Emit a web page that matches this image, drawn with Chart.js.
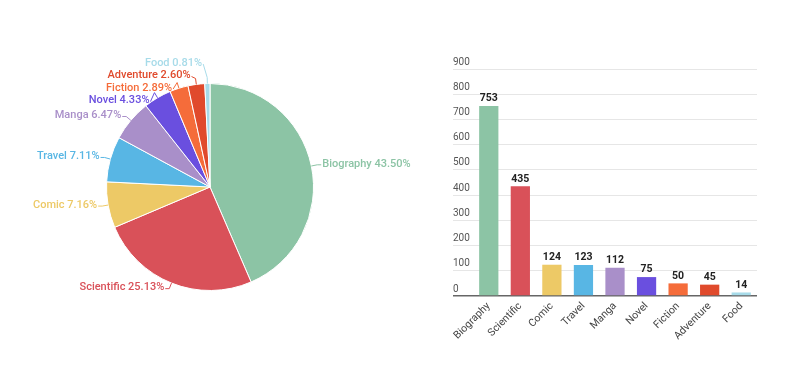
<!DOCTYPE html>
<html>
<head>
<meta charset="utf-8">
<script src="https://cdn.jsdelivr.net/npm/chart.js@4"></script>
<style>
  body { margin: 0; background: #fff; width: 800px; height: 388px; overflow: hidden; position: relative; }
  .box { position: absolute; }
</style>
</head>
<body>
<div class="box" style="left:0;top:0;width:420px;height:388px"><canvas id="pieChart"></canvas></div>
<div class="box" style="left:440px;top:40px;width:340px;height:320px"><canvas id="barChart"></canvas></div>
<script>
// book genres and how many of each
const categories = ['Biography', 'Scientific', 'Comic', 'Travel', 'Manga', 'Novel', 'Fiction', 'Adventure', 'Food'];
const counts = [753, 435, 124, 123, 112, 75, 50, 45, 14];
const colors = ['#8cc4a5', '#d95159', '#edc966', '#58b6e4', '#a98fc9', '#6a4fdf', '#f56c3a', '#e04a2c', '#a7dbe9'];
const yMax = 900;
const yStep = 100;

const total = counts.reduce((a, b) => a + b, 0);
const FONT = 'Roboto, "Noto Sans", sans-serif';

// labels outside the pie with little leader lines
const pieLabels = {
  id: 'pieLabels',
  afterDatasetsDraw(chart) {
    const ctx = chart.ctx;
    const meta = chart.getDatasetMeta(0);
    const items = meta.data.map((arc, i) => {
      const mid = (arc.startAngle + arc.endAngle) / 2;
      const r = arc.outerRadius;
      return {
        i,
        ex: arc.x + Math.cos(mid) * r,
        ey: arc.y + Math.sin(mid) * r,
        ox: arc.x + Math.cos(mid) * (r + 6),
        oy: arc.y + Math.sin(mid) * (r + 6),
        y: arc.y + Math.sin(mid) * (r + 6),
        right: Math.cos(mid) >= 0
      };
    });
    // push crowded labels apart
    [true, false].forEach(side => {
      const group = items.filter(d => d.right === side).sort((a, b) => a.y - b.y);
      for (let k = 0; k < 60; k++) {
        for (let j = 1; j < group.length; j++) {
          const gap = group[j].y - group[j - 1].y;
          if (gap < 12.5) {
            const d = (12.5 - gap) / 2;
            group[j - 1].y -= d;
            group[j].y += d;
          }
        }
      }
    });
    ctx.save();
    ctx.font = '500 11px ' + FONT;
    ctx.textBaseline = 'middle';
    ctx.lineWidth = 1;
    items.forEach(d => {
      const col = colors[d.i];
      const dir = d.right ? 1 : -1;
      const bx = d.ox + dir * 4;
      ctx.strokeStyle = col;
      ctx.beginPath();
      ctx.moveTo(d.ex, d.ey);
      ctx.lineTo(d.ox, d.oy);
      ctx.lineTo(bx, d.y);
      ctx.stroke();
      ctx.fillStyle = col;
      ctx.textAlign = d.right ? 'left' : 'right';
      const pct = (counts[d.i] / total * 100).toFixed(2);
      ctx.fillText(categories[d.i] + ' ' + pct + '%', bx + dir * 1, d.y - 1);
    });
    ctx.restore();
  }
};

// numbers on top of the bars
const barValues = {
  id: 'barValues',
  afterDatasetsDraw(chart) {
    const ctx = chart.ctx;
    ctx.save();
    ctx.font = 'bold 10.5px ' + FONT;
    ctx.fillStyle = '#222';
    ctx.textAlign = 'center';
    ctx.textBaseline = 'bottom';
    chart.getDatasetMeta(0).data.forEach((bar, i) => {
      ctx.fillText(counts[i], bar.x, bar.y - 2);
    });
    ctx.restore();
  }
};

document.addEventListener('DOMContentLoaded', function () {
  new Chart(document.getElementById('pieChart'), {
    type: 'pie',
    data: {
      labels: categories,
      datasets: [{
        data: counts,
        backgroundColor: colors,
        borderColor: '#fff',
        borderWidth: 1,
        hoverOffset: 0
      }]
    },
    options: {
      responsive: true,
      maintainAspectRatio: false,
      animation: false,
      layout: { padding: { left: 106, right: 106, top: 83, bottom: 97 } },
      plugins: { legend: { display: false }, tooltip: { enabled: false } }
    },
    plugins: [pieLabels]
  });

  new Chart(document.getElementById('barChart'), {
    type: 'bar',
    data: {
      labels: categories,
      datasets: [{
        data: counts,
        backgroundColor: colors,
        categoryPercentage: 1,
        barPercentage: 0.61
      }]
    },
    options: {
      responsive: true,
      maintainAspectRatio: false,
      animation: false,
      layout: { padding: { left: 13, right: 23, top: 29, bottom: 14 } },
      plugins: { legend: { display: false }, tooltip: { enabled: false } },
      scales: {
        y: {
          min: 0,
          max: yMax,
          afterFit: s => { s.width = 20; },
          border: { display: false },
          grid: {
            drawTicks: true,
            tickLength: 20,
            color: c => (c.tick && c.tick.value === 0) ? '#666' : '#e6e6e6',
            lineWidth: c => (c.tick && c.tick.value === 0) ? 1.5 : 1
          },
          ticks: {
            stepSize: yStep,
            crossAlign: 'far',
            labelOffset: -7,
            color: '#555',
            font: { family: FONT, size: 10 }
          }
        },
        x: {
          afterFit: s => { s.height = 50; },
          border: { display: false },
          grid: { display: false, drawTicks: false },
          ticks: {
            autoSkip: false,
            minRotation: 45,
            maxRotation: 45,
            padding: 4,
            color: '#444',
            font: { family: FONT, size: 10.5 }
          }
        }
      }
    },
    plugins: [barValues]
  });
});
</script>
</body>
</html>
